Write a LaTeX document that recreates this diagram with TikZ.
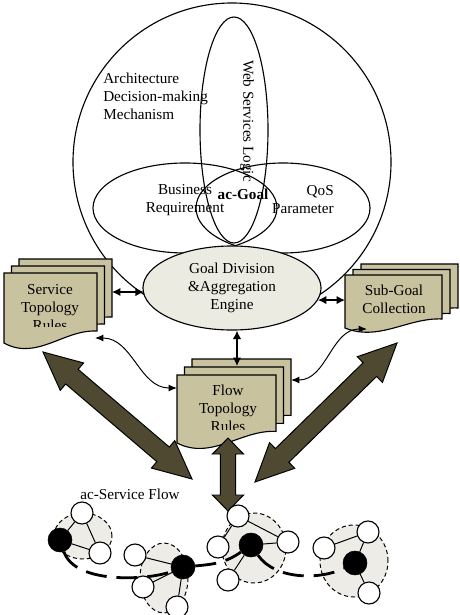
\documentclass[tikz,border=0pt]{standalone}
\usepackage{fontspec}
\setmainfont{Liberation Serif}
\usepackage{tikz}
\usetikzlibrary{shapes,calc,arrows.meta}
\definecolor{docfill}{HTML}{C8C29E}
\definecolor{bigfill}{HTML}{4E4930}
\definecolor{goalfill}{HTML}{ECEBE1}
\definecolor{flowfill}{HTML}{EDECE6}
\tikzset{my label/.style={
  inner sep=0pt,
  font=\fontsize{10.8}{12.8}\selectfont
  }
}
\tikzset{my doc sheet/.style={
  draw=black,
  fill=docfill,
  line width=0.8pt
  }
}
\tikzset{my curvy arrow/.style={
  {Latex[length=6pt,width=5pt]}-{Latex[length=6pt,width=5pt]},
  line width=0.7pt
  }
}
\tikzset{my short arrow/.style={
  {Latex[length=6pt,width=6pt]}-{Latex[length=6pt,width=6pt]},
  line width=1pt
  }
}
\tikzset{my big arrow/.style={
  draw=black,
  fill=bigfill,
  line width=0.7pt
  }
}
% sheet of a document stack: left, top, width, height
\newcommand{\sheet}[4]{({#1},{#2}) -- ({#1+#3},{#2}) -- ({#1+#3},{#2-0.83*#4})
  .. controls ({#1+0.65*#3},{#2-0.8*#4}) and ({#1+0.35*#3},{#2-1.26*#4}) .. ({#1},{#2-#4}) -- cycle}
% fat double arrow: from, to, head length, head half width, shaft half width
\newcommand{\bigarrow}[5]{
  \coordinate (h1) at ($(#1)!#3!(#2)$);
  \coordinate (h2) at ($(#2)!#3!(#1)$);
  \path[my big arrow] (#1) -- ($(h1)!#4!90:(#2)$) -- ($(h1)!#5!90:(#2)$)
    -- ($(h2)!#5!-90:(#1)$) -- ($(h2)!#4!-90:(#1)$) -- (#2)
    -- ($(h2)!#4!90:(#1)$) -- ($(h2)!#5!90:(#1)$)
    -- ($(h1)!#5!-90:(#2)$) -- ($(h1)!#4!-90:(#2)$) -- cycle;
}

\begin{document}
\begin{tikzpicture}[x=0.025cm,y=0.025cm]
    \useasboundingbox (0,0) rectangle (459,-615);

    \draw[line width=0.8pt] (232,-162) circle [radius=159];
    \draw[line width=0.8pt] (234,-130) ellipse [x radius=34, y radius=113];
    \draw[line width=0.8pt] (185,-208) ellipse [x radius=92, y radius=45];
    \draw[line width=0.8pt] (283,-208) ellipse [x radius=87, y radius=45];

    \node[my label, anchor=west, align=left] (Arch) at (103,-96) {Architecture\\Decision-making\\Mechanism};
    \node[my label, rotate=-90] (Web) at (247,-121) {Web Services Logic};
    \node[my label, align=center] (Bus) at (185,-200) {Business\\Requirement};
    \node[my label, anchor=east, align=right] (QoS) at (334,-200) {QoS\\Parameter};
    \node[my label, font=\fontsize{10.8}{12.8}\selectfont\bfseries] (AcGoal) at (243,-194) {ac-Goal};

    \node[ellipse, draw, fill=goalfill, line width=0.8pt, minimum width=4.45cm, minimum height=2.1cm,
          inner sep=0pt, align=center, font=\fontsize{10.8}{12.8}\selectfont] (Goal) at (232,-288)
          {Goal Division\\\&Aggregation\\Engine};

    \foreach \d in {2,1,0}
        \path[my doc sheet] \sheet{4+\d*7.5}{-273+\d*7}{93}{70};
    \begin{scope}
        \clip (4,-273) rectangle (97,-326);
        \node[my label, align=center] (Svc) at (50,-308) {Service\\Topology\\Rules};
    \end{scope}

    \foreach \d in {2,1,0}
        \path[my doc sheet] \sheet{345+\d*8}{-275+\d*5.5}{97}{53};
    \node[my label, align=center] (Sub) at (394,-299) {Sub-Goal\\Collection};

    \foreach \d in {2,1,0}
        \path[my doc sheet] \sheet{177+\d*7.5}{-375+\d*8}{99}{68};
    \begin{scope}
        \clip (177,-375) rectangle (276,-429);
        \node[my label, align=center] (Flow) at (228,-408) {Flow\\Topology\\Rules};
    \end{scope}

    \coordinate (SvcR) at (112,-292);
    \coordinate (SvcB) at (95,-338);
    \coordinate (SubL) at (345,-297);
    \coordinate (SubB) at (367,-329);
    \coordinate (FlowT) at (237,-366);
    \coordinate (FlowL) at (177,-388);
    \coordinate (FlowR) at (291,-380);

    \draw[my short arrow] (SvcR) -- (SvcR -| Goal.185);
    \draw[my short arrow] (Goal.-8) -- (Goal.-8 -| SubL);
    \draw[my short arrow] (FlowT |- Goal.south) -- (FlowT);
    \draw[my curvy arrow] (SvcB) to[out=0, in=180] (FlowL);
    \draw[my curvy arrow] (FlowR) to[out=0, in=180] (SubB);

    \coordinate (SvcTip) at (43,-352);
    \coordinate (LeftFoot) at (192,-479);
    \coordinate (SubTip) at (397,-343);
    \coordinate (RightFoot) at (255,-482);
    \coordinate (FlowTip) at (228,-438);
    \coordinate (MidFoot) at (228,-511);

    \bigarrow{SvcTip}{LeftFoot}{0.95cm}{0.45cm}{0.24cm}
    \bigarrow{SubTip}{RightFoot}{0.95cm}{0.45cm}{0.24cm}
    \bigarrow{FlowTip}{MidFoot}{0.4cm}{0.39cm}{0.19cm}

    \node[my label] (Title) at (130,-494) {ac-Service Flow};

    \foreach \x/\y/\rx/\ry in {83/536/29/23,164/578/24/35,254/548/32/35,354/561/34/36}
        \draw[fill=flowfill, line width=0.7pt, dash pattern=on 3pt off 2pt] (\x,-\y) ellipse [x radius=\rx, y radius=\ry];

    \foreach \x/\y [count=\n] in {60/540,183/567,251/545,355/563}
        \node[circle, draw, fill=black, minimum size=0.6cm, inner sep=0pt] (H\n) at (\x,-\y) {};
    \foreach \nm/\x/\y in {A1/82/513,A2/100/553,B1/135/555,B2/143/587,B3/177/607,
                            C1/238/516,C2/288/542,C3/218/547,C4/228/580,D1/324/548,D2/368/532,D3/369/593}
        \node[circle, draw, fill=white, minimum size=0.55cm, inner sep=0pt, line width=0.8pt] (\nm) at (\x,-\y) {};

    \foreach \a/\b in {H1/A1,H1/A2,A1/A2,H2/B1,H2/B2,H2/B3,C1/C2,H3/C2,C1/C3,H3/C4,D1/D2,H4/D2,H4/D3}
        \draw[line width=0.7pt] (\a) -- (\b);

    \draw[line width=2pt, dash pattern=on 15pt off 7pt] (H1) .. controls (75,-585) and (150,-580) .. (H2)
        to[out=5, in=215] (H3) .. controls (275,-580) and (320,-580) .. (H4);

\end{tikzpicture}
\end{document}
